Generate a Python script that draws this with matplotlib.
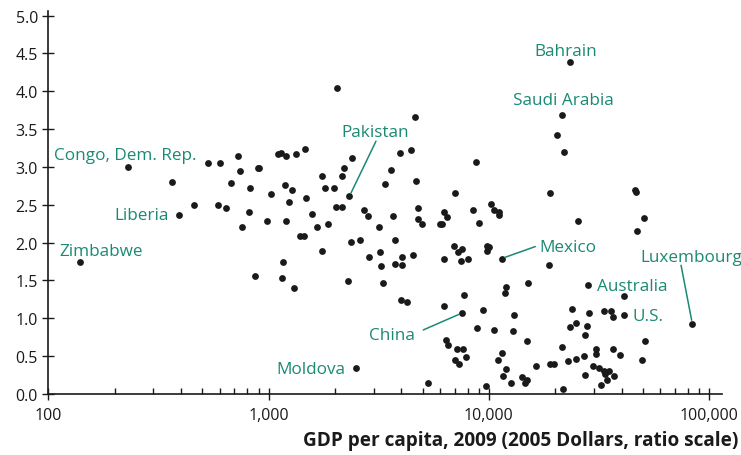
import matplotlib
matplotlib.use("Agg")
import matplotlib.pyplot as plt
from matplotlib.ticker import FixedLocator, FuncFormatter, NullFormatter

plt.rcParams['font.family'] = ['Open Sans', 'DejaVu Sans']

# GDP per capita (2005 dollars) and y-values for unlabeled countries
gdp = [366, 457, 533, 588, 604, 639, 675, 724, 744, 755, 812, 823, 870, 895, 909,
       987, 1029, 1107, 1135, 1154, 1166, 1183, 1199, 1203, 1237, 1273, 1308, 1325,
       1389, 1448, 1463, 1483, 1569, 1659, 1753, 1753, 1803, 1855, 1987, 2017, 2038,
       2160, 2160, 2193, 2286, 2354, 2384, 2586, 2702, 2826, 2865, 3161, 3205, 3248,
       3289, 3383, 3584, 3681, 3729, 3729, 3949, 3990, 4053, 4053, 4239, 4420, 4533,
       4619, 4677, 4741, 4741, 4954, 5303, 6012, 6112, 6275, 6275, 6270, 6409, 6544,
       6455, 6922, 7017, 7017, 7204, 7189, 7318, 7433, 7550, 7654, 7733, 7848, 8064,
       8426, 8767, 8785, 9037, 9400, 9670, 9800, 10010, 9800, 10250, 10550, 10530,
       10970, 11150, 11150, 11490, 11590, 11770, 11930, 11930, 12640, 12800, 12970,
       14160, 14540, 14850, 14970, 14940, 16280, 18750, 18940, 19000, 19750, 20380,
       21510, 21760, 21850, 22790, 23420, 23710, 24850, 24850, 25430, 26930, 27300,
       27300, 27790, 28470, 29750, 30630, 30630, 31610, 32380, 33200, 33310, 33760,
       34250, 34980, 35650, 36710, 36710, 37090, 39280, 41140, 45950, 46630, 47120,
       49280, 50590, 51220]
value = [2.80, 2.50, 3.05, 2.50, 3.05, 2.46, 2.79, 3.14, 2.95, 2.20, 2.40, 2.72, 1.56,
         2.99, 2.99, 2.28, 2.64, 3.17, 3.18, 1.53, 1.75, 2.76, 3.15, 2.29, 2.54, 2.69,
         1.40, 3.17, 2.09, 2.09, 3.24, 2.59, 2.38, 2.20, 2.88, 1.89, 2.72, 2.25, 2.72,
         2.47, 4.04, 2.88, 2.47, 2.99, 1.49, 2.01, 3.12, 2.03, 2.43, 2.35, 1.81, 2.20,
         1.87, 1.69, 1.46, 2.78, 2.96, 2.35, 2.04, 1.72, 3.18, 1.24, 1.81, 1.70, 1.22,
         3.23, 1.84, 3.66, 2.82, 2.46, 2.31, 2.24, 0.14, 2.24, 2.24, 2.40, 1.78, 1.16,
         0.72, 0.65, 2.34, 1.96, 2.66, 0.45, 1.88, 0.60, 0.39, 1.76, 1.91, 0.60, 1.31,
         0.49, 1.78, 2.43, 3.06, 0.87, 2.26, 1.11, 0.11, 1.95, 1.94, 1.89, 2.51, 2.43,
         0.84, 0.45, 2.41, 2.37, 0.54, 0.24, 1.34, 1.41, 0.33, 0.14, 0.83, 1.05, 0.22,
         0.15, 0.18, 1.46, 0.70, 0.37, 1.70, 0.39, 2.66, 0.39, 3.42, 0.62, 0.07, 3.20,
         0.43, 0.89, 1.12, 0.94, 0.46, 2.28, 0.50, 0.78, 0.25, 0.90, 1.07, 0.37, 0.59,
         0.53, 0.34, 0.12, 0.30, 1.09, 0.27, 0.18, 0.30, 1.09, 1.02, 0.59, 0.24, 0.52,
         1.29, 2.69, 2.67, 2.15, 0.45, 2.33, 0.70]

# Labeled countries
labels = ["Zimbabwe", "Congo, Dem. Rep.", "Liberia", "Moldova", "Pakistan", "China",
          "Mexico", "Bahrain", "Saudi Arabia", "Australia", "U.S.", "Luxembourg"]
label_gdp = [140, 229, 392, 2486, 2325, 7550, 11430, 23420, 21530, 28090, 41060, 83800]
label_value = [1.74, 3.00, 2.37, 0.34, 2.61, 1.07, 1.79, 4.38, 3.69, 1.44, 1.05, 0.93]

x_ticks = [100, 1000, 10000, 100000]
x_tick_labels = ["100", "1,000", "10,000", "100,000"]
y_ticks = [0.0, 0.5, 1.0, 1.5, 2.0, 2.5, 3.0, 3.5, 4.0, 4.5, 5.0]

teal = "#1a8a74"
ink = "#1a1a1a"

fig = plt.figure(figsize=(7.41, 4.56), dpi=100)
ax = fig.add_axes([48.3 / 741, 1 - 395 / 456, (722 - 48.3) / 741, (395 - 12) / 456])

ax.scatter(gdp + label_gdp, value + label_value, s=24, color=ink, linewidths=0, zorder=3)

ax.set_xscale('log')
ax.set_xlim(100, 114300)
ax.set_ylim(0, 5.06)

ax.xaxis.set_major_locator(FixedLocator(x_ticks))
ax.xaxis.set_major_formatter(FuncFormatter(lambda v, p: x_tick_labels[x_ticks.index(v)] if v in x_ticks else ""))
minor = [m * 10 ** e for e in (2, 3, 4) for m in range(2, 10)]
ax.xaxis.set_minor_locator(FixedLocator(minor))
ax.xaxis.set_minor_formatter(NullFormatter())
ax.yaxis.set_major_locator(FixedLocator(y_ticks))
ax.yaxis.set_major_formatter(FuncFormatter(lambda v, p: f"{v:.1f}"))

for s in ("top", "right"):
    ax.spines[s].set_visible(False)
for s in ("left", "bottom"):
    ax.spines[s].set_color(ink)
    ax.spines[s].set_linewidth(1.2)

ax.tick_params(axis='both', which='major', direction='inout', length=9, width=1.0,
               color=ink, labelsize=11.5, labelcolor=ink)
ax.tick_params(axis='x', which='minor', direction='in', length=4.5, width=1.0, color=ink)
ax.tick_params(axis='x', which='major', pad=5)
ax.tick_params(axis='y', which='major', pad=3)

ax.set_xlabel("GDP per capita, 2009 (2005 Dollars, ratio scale)", fontsize=13.7,
              fontweight='bold', color=ink, ha='right', va='center')
ax.xaxis.set_label_coords((738 - 48.3) / (722 - 48.3), (395 - 441) / 383)

# text offsets (points) relative to each labeled point, with alignment
text_style = {
    "Zimbabwe": ((-15.4, 8.0), 'left'),
    "Congo, Dem. Rep.": ((-2, 8.9), 'center'),
    "Liberia": ((-7.7, -0.2), 'right'),
    "Moldova": ((-7.7, -0.5), 'right'),
    "Pakistan": ((-6, 46.3), 'left'),
    "China": ((-33.6, -15.8), 'right'),
    "Mexico": ((27.1, 8.1), 'left'),
    "Bahrain": ((-3.6, 8.0), 'center'),
    "Saudi Arabia": ((1, 10.6), 'center'),
    "Australia": ((6.5, -0.9), 'left'),
    "U.S.": ((6.3, -1.1), 'left'),
    "Luxembourg": ((-37.7, 47.6), 'left'),
}
leader = {
    "Pakistan": (19.2, 39.8),
    "China": (-27.9, -12.2),
    "Mexico": (24.2, 8.6),
    "Luxembourg": (-8.1, 42),
}

for name, gx, gy in zip(labels, label_gdp, label_value):
    off, ha = text_style[name]
    ax.annotate(name, xy=(gx, gy), xytext=off, textcoords='offset points',
                ha=ha, va='center', fontsize=12.3, color=teal, zorder=4,
                annotation_clip=False)
    if name in leader:
        ax.annotate('', xy=(gx, gy), xytext=leader[name], textcoords='offset points',
                    arrowprops=dict(arrowstyle='-', color=teal, lw=1.1,
                                    shrinkA=0, shrinkB=2.5), zorder=4)

fig.savefig("out.png", dpi=100)
